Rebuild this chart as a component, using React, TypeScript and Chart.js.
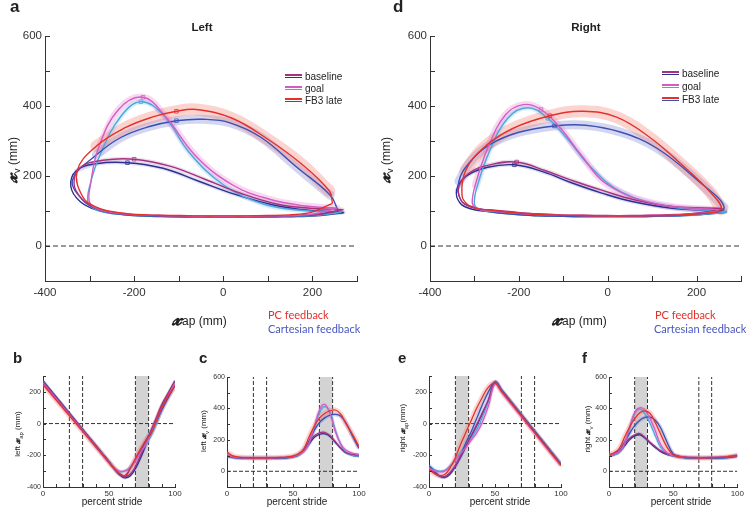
import React, { useEffect, useRef } from 'react';
import { Chart, registerables } from 'chart.js';
Chart.register(...registerables);

const CW = 746;
const CH = 509;

// ---------------- data ----------------
const PCT_LEFT = [0, 5, 10, 15, 20, 25, 30, 35, 40, 45, 50, 54, 58, 62, 66, 70, 74, 78, 82, 86, 90, 95, 100];
const PCT_RIGHT = [0, 4, 8, 12, 16, 20, 24, 28, 32, 36, 40, 45, 50, 55, 60, 65, 70, 75, 80, 85, 90, 95, 100];

// left leg: anterior-posterior (x_ap) and vertical (x_v) position, mm
const L_FB3_PC_AP = [245, 197, 148, 99, 50, 1, -48, -97, -146, -195, -244, -283, -315, -328, -285, -220, -160, -105, -60, 20, 100, 175, 238];
const L_FB3_PC_V = [122, 96, 89, 87, 86, 86, 86, 87, 88, 90, 97, 110, 140, 215, 285, 338, 368, 385, 390, 365, 305, 235, 157];
const L_FB3_C_AP = [258, 208, 158, 108, 58, 8, -42, -92, -142, -192, -242, -282, -318, -338, -285, -230, -170, -105, -45, 15, 85, 165, 240];
const L_FB3_C_V = [100, 90, 86, 85, 84, 84, 84, 84, 85, 87, 93, 105, 135, 190, 260, 310, 340, 358, 362, 352, 310, 225, 145];
const L_GOAL_PC_AP = [255, 205, 155, 105, 55, 5, -45, -95, -145, -195, -245, -280, -300, -298, -280, -235, -180, -130, -60, 20, 100, 180, 255];
const L_GOAL_PC_V = [108, 92, 87, 86, 85, 85, 85, 86, 87, 89, 95, 105, 125, 175, 280, 390, 425, 370, 255, 175, 135, 115, 108];
const L_GOAL_C_AP = [265, 213, 162, 111, 60, 9, -42, -93, -144, -195, -246, -282, -303, -300, -275, -230, -185, -135, -75, 0, 90, 175, 265];
const L_GOAL_C_V = [96, 88, 85, 84, 83, 83, 83, 84, 85, 87, 92, 102, 122, 170, 265, 370, 412, 375, 265, 175, 120, 102, 96];
const L_BASE_PC_AP = [265, 214, 163, 112, 61, 10, -41, -92, -143, -194, -245, -285, -318, -335, -320, -270, -200, -120, -40, 40, 120, 195, 268];
const L_BASE_PC_V = [103, 90, 87, 86, 85, 85, 85, 86, 87, 89, 95, 108, 135, 180, 225, 245, 248, 228, 190, 150, 120, 108, 104];
const L_BASE_C_AP = [270, 219, 168, 117, 66, 15, -36, -87, -138, -189, -240, -285, -322, -342, -330, -285, -215, -135, -55, 25, 110, 190, 270];
const L_BASE_C_V = [95, 87, 84, 83, 82, 82, 82, 83, 84, 86, 92, 103, 128, 170, 215, 235, 238, 222, 185, 148, 118, 102, 96];

// right leg
const R_FB3_PC_AP = [-290, -315, -328, -320, -280, -215, -130, -55, 20, 95, 160, 230, 255, 203, 152, 100, 48, -4, -56, -108, -160, -211, -262];
const R_FB3_PC_V = [105, 118, 145, 215, 280, 335, 372, 385, 368, 310, 240, 155, 105, 92, 88, 87, 86, 86, 87, 88, 90, 95, 102];
const R_FB3_C_AP = [-265, -300, -330, -335, -310, -265, -200, -120, -50, 30, 110, 200, 262, 210, 158, 106, 54, 2, -50, -102, -154, -206, -258];
const R_FB3_C_V = [100, 110, 130, 185, 240, 290, 325, 343, 345, 325, 280, 190, 110, 93, 87, 85, 84, 84, 84, 85, 86, 90, 96];
const R_GOAL_PC_AP = [-280, -298, -305, -298, -270, -230, -190, -150, -105, -60, 0, 110, 250, 198, 146, 95, 43, -9, -60, -112, -163, -215, -266];
const R_GOAL_PC_V = [102, 110, 125, 175, 280, 375, 404, 390, 335, 260, 175, 120, 102, 92, 88, 87, 86, 86, 87, 88, 90, 95, 100];
const R_GOAL_C_AP = [-265, -290, -300, -295, -268, -225, -180, -135, -90, -40, 30, 140, 265, 212, 160, 108, 56, 4, -48, -100, -152, -204, -256];
const R_GOAL_C_V = [98, 105, 120, 165, 265, 365, 395, 365, 305, 228, 155, 112, 98, 90, 86, 85, 84, 84, 84, 85, 86, 90, 96];
const R_BASE_PC_AP = [-275, -310, -330, -335, -310, -265, -205, -140, -75, -10, 60, 150, 258, 206, 154, 102, 50, -2, -54, -106, -158, -210, -262];
const R_BASE_PC_V = [104, 112, 130, 170, 210, 232, 240, 215, 185, 158, 132, 112, 106, 95, 90, 88, 87, 87, 88, 89, 92, 97, 103];
const R_BASE_C_AP = [-268, -305, -332, -340, -318, -270, -210, -145, -80, -15, 55, 145, 265, 213, 161, 109, 57, 5, -47, -99, -151, -203, -255];
const R_BASE_C_V = [98, 105, 122, 160, 200, 225, 232, 212, 180, 152, 127, 108, 98, 90, 86, 85, 84, 84, 84, 85, 87, 91, 96];

// index ranges (into the pct arrays) of the swing phase that carries the confidence band
const LEFT_SWING = [14, 22];
const RIGHT_SWING = [3, 12];
const LEFT_EVENTS = [20, 30, 70, 80];
const LEFT_SHADE = [70, 80];
const RIGHT_EVENTS = [20, 30, 70, 80];
const RIGHT_SHADE = [20, 30];

const LEGEND_LABELS = ['baseline', 'goal', 'FB3 late'];

// ---------------- styles ----------------
const FONT = '"Liberation Sans", Arial, Helvetica, sans-serif';
const COL = {
  fb3pc: '#e4312b',
  fb3c: '#3b50b2',
  goalpc: '#d45cc2',
  goalc: '#4ea6df',
  basepc: '#a6327f',
  basec: '#2d3090',
};
const BAND = {
  fb3pc: 'rgba(242,120,110,0.32)',
  fb3c: 'rgba(120,128,212,0.32)',
  goalpc: 'rgba(232,130,210,0.30)',
  goalc: 'rgba(130,195,238,0.30)',
  basepc: 'rgba(170,110,170,0.22)',
  basec: 'rgba(110,115,200,0.22)',
};

type S = { key: keyof typeof COL; ap: number[]; v: number[]; order: number; band: number; mark: number };
const LEFT: S[] = [
  { key: 'fb3pc', ap: L_FB3_PC_AP, v: L_FB3_PC_V, order: 1, band: 12, mark: 17 },
  { key: 'goalpc', ap: L_GOAL_PC_AP, v: L_GOAL_PC_V, order: 2, band: 7, mark: 16 },
  { key: 'basepc', ap: L_BASE_PC_AP, v: L_BASE_PC_V, order: 3, band: 4, mark: 16 },
  { key: 'fb3c', ap: L_FB3_C_AP, v: L_FB3_C_V, order: 4, band: 9, mark: 17 },
  { key: 'goalc', ap: L_GOAL_C_AP, v: L_GOAL_C_V, order: 5, band: 5, mark: 16 },
  { key: 'basec', ap: L_BASE_C_AP, v: L_BASE_C_V, order: 6, band: 4, mark: 16 },
];
const RIGHT: S[] = [
  { key: 'fb3pc', ap: R_FB3_PC_AP, v: R_FB3_PC_V, order: 1, band: 12, mark: 6 },
  { key: 'goalpc', ap: R_GOAL_PC_AP, v: R_GOAL_PC_V, order: 2, band: 7, mark: 7 },
  { key: 'basepc', ap: R_BASE_PC_AP, v: R_BASE_PC_V, order: 3, band: 4, mark: 6 },
  { key: 'fb3c', ap: R_FB3_C_AP, v: R_FB3_C_V, order: 4, band: 9, mark: 7 },
  { key: 'goalc', ap: R_GOAL_C_AP, v: R_GOAL_C_V, order: 5, band: 5, mark: 7 },
  { key: 'basec', ap: R_BASE_C_AP, v: R_BASE_C_V, order: 6, band: 4, mark: 6 },
];

const inwardTicks = {
  id: 'inwardTicks',
  afterDatasetsDraw(chart: any, _a: any, opts: any) {
    const { ctx, chartArea: ca, scales } = chart;
    const len = opts.len || 4;
    ctx.save();
    ctx.strokeStyle = '#333';
    ctx.lineWidth = 1;
    ctx.beginPath();
    scales.x.ticks.forEach((t: any) => {
      const p = Math.round(scales.x.getPixelForValue(t.value)) + 0.5;
      ctx.moveTo(p, ca.bottom);
      ctx.lineTo(p, ca.bottom - len);
    });
    scales.y.ticks.forEach((t: any) => {
      const p = Math.round(scales.y.getPixelForValue(t.value)) + 0.5;
      ctx.moveTo(ca.left, p);
      ctx.lineTo(ca.left + len, p);
    });
    ctx.stroke();
    ctx.restore();
  },
};

type Box = { l: number; t: number; r: number; b: number };

function axis(min: number, max: number, step: number, every: number, size: number, pad: number, isY: boolean, hideNeg = false) {
  return {
    type: 'linear',
    min,
    max,
    afterFit: (s: any) => {
      if (isY) s.width = 40;
      else s.height = 20;
    },
    ticks: {
      stepSize: step,
      autoSkip: false,
      maxRotation: 0,
      color: '#333',
      padding: pad,
      font: { family: FONT, size },
      callback: (v: number) => (Math.abs(v % every) < 1e-6 && !(hideNeg && v < 0) ? String(v) : ''),
    },
    grid: { display: false, drawTicks: false },
    border: { display: true, color: '#333', width: 1 },
  };
}

function baseOptions(box: Box, x: any, y: any, tickLen: number) {
  return {
    animation: false,
    responsive: false,
    maintainAspectRatio: false,
    events: [],
    layout: {
      autoPadding: false,
      padding: { left: box.l - 40, top: box.t, right: CW - box.r, bottom: CH - box.b - 20 },
    },
    plugins: { legend: { display: false }, tooltip: { enabled: false }, inwardTicks: { len: tickLen } },
    scales: { x, y },
  };
}

const lineDs = (data: any[], color: string, width: number, order: number, extra: any = {}) => ({
  data,
  borderColor: color,
  borderWidth: width,
  pointRadius: 0,
  tension: 0.4,
  fill: false,
  order,
  ...extra,
});

function trajConfig(series: S[], box: Box) {
  const ds: any[] = [];
  const sw = series === LEFT ? LEFT_SWING : RIGHT_SWING;
  series.forEach((s) => {
    const pts = s.ap.map((a, i) => ({ x: a, y: s.v[i] }));
    ds.push(lineDs([...pts, pts[0]], COL[s.key], 1.4, s.order));
    ds.push(lineDs(pts.slice(sw[0], sw[1] + 1), BAND[s.key], s.band, 20 + s.order, { borderCapStyle: 'round' }));
    ds.push(
      lineDs([pts[s.mark]], COL[s.key], 0, s.order, {
        showLine: false,
        pointRadius: 2.5,
        pointStyle: 'rect',
        pointBorderWidth: 0.8,
        pointBorderColor: COL[s.key],
        pointBackgroundColor: 'rgba(255,255,255,0)',
      })
    );
  });
  ds.push(lineDs([{ x: -400, y: 0 }, { x: 300, y: 0 }], '#333', 1, 40, { borderDash: [5, 3], tension: 0 }));
  return {
    type: 'line',
    data: { datasets: ds },
    options: baseOptions(box, axis(-400, 300, 100, 200, 11.5, 5, false), axis(-100, 600, 100, 200, 11.5, 3, true, true), 5),
    plugins: [inwardTicks],
  };
}

function timeConfig(series: S[], field: 'ap' | 'v', box: Box) {
  const left = series === LEFT;
  const pct = left ? PCT_LEFT : PCT_RIGHT;
  const sw = left ? LEFT_SWING : RIGHT_SWING;
  const ev = left ? LEFT_EVENTS : RIGHT_EVENTS;
  const sh = left ? LEFT_SHADE : RIGHT_SHADE;
  const ymin = field === 'ap' ? -400 : -100;
  const ymax = field === 'ap' ? 300 : 600;
  const ds: any[] = [];
  series.forEach((s) => {
    const arr = field === 'ap' ? s.ap : s.v;
    const pts = pct.map((t, i) => ({ x: t, y: arr[i] }));
    ds.push(lineDs(pts, COL[s.key], 1.3, s.order));
    ds.push(lineDs(pts, BAND[s.key], Math.max(3, s.band * 0.45), 20 + s.order));
  });
  ev.forEach((e) => ds.push(lineDs([{ x: e, y: ymin }, { x: e, y: ymax }], '#333', 1, 40, { borderDash: [4, 2], tension: 0 })));
  ds.push(lineDs([{ x: 0, y: 0 }, { x: 100, y: 0 }], '#333', 1, 40, { borderDash: [4, 2], tension: 0 }));
  ds.push(
    lineDs([{ x: sh[0], y: ymax }, { x: sh[1], y: ymax }], 'rgba(0,0,0,0)', 0, 60, {
      fill: 'start',
      backgroundColor: '#d3d3d3',
      tension: 0,
    })
  );
  return {
    type: 'line',
    data: { datasets: ds },
    options: baseOptions(box, axis(0, 100, 10, 50, 8, 2, false), axis(ymin, ymax, 100, 200, 7, 2, true), 3),
    plugins: [inwardTicks],
  };
}

function ChartCanvas({ make }: { make: () => any }) {
  const ref = useRef<HTMLCanvasElement>(null);
  useEffect(() => {
    const ch = new Chart(ref.current as HTMLCanvasElement, make());
    return () => ch.destroy();
  }, []);
  return <canvas ref={ref} width={CW} height={CH} style={{ position: 'absolute', left: 0, top: 0 }} />;
}

// ---------------- text helpers ----------------
const Txt = (p: { x: number; y: number; size: number; children: any; bold?: boolean; color?: string; center?: boolean; family?: string }) => (
  <div
    style={{
      position: 'absolute',
      left: p.x,
      top: p.y - 0.85 * p.size,
      fontSize: p.size,
      lineHeight: p.size + 'px',
      fontWeight: p.bold ? 'bold' : 'normal',
      color: p.color || '#222',
      fontFamily: p.family || FONT,
      whiteSpace: 'nowrap',
      transform: p.center ? 'translateX(-50%)' : undefined,
    }}
  >
    {p.children}
  </div>
);

const Rot = (p: { cx: number; cy: number; size: number; children: any }) => (
  <div
    style={{
      position: 'absolute',
      left: p.cx,
      top: p.cy,
      fontSize: p.size,
      lineHeight: 1,
      fontFamily: FONT,
      color: '#222',
      whiteSpace: 'nowrap',
      transform: 'translate(-50%,-50%) rotate(-90deg)',
    }}
  >
    {p.children}
  </div>
);

const SX = ({ size }: { size: number }) => (
  <span style={{ fontFamily: '"DejaVu Serif", "DejaVu Sans", serif', fontStyle: 'italic', fontWeight: 'bold', fontSize: size }}>𝔁</span>
);

const LEG_COLS: [string, string][] = [
  [COL.basepc, COL.basec],
  [COL.goalpc, COL.goalc],
  [COL.fb3pc, COL.fb3c],
];

const Legend = ({ x, y0, gap }: { x: number; y0: number; gap: number }) => (
  <>
    {LEGEND_LABELS.map((lab, i) => {
      const y = y0 + i * gap;
      return (
        <React.Fragment key={lab}>
          <div style={{ position: 'absolute', left: x, top: y - 2, width: 17, height: 1.6, background: LEG_COLS[i][0] }} />
          <div style={{ position: 'absolute', left: x, top: y + 0.8, width: 17, height: 1.6, background: LEG_COLS[i][1] }} />
          <Txt x={x + 20} y={y + 4} size={10}>
            {lab}
          </Txt>
        </React.Fragment>
      );
    })}
  </>
);

const BOX_A: Box = { l: 45, t: 36, r: 357, b: 281 };
const BOX_D: Box = { l: 430, t: 36, r: 741, b: 281 };
const BOX_B: Box = { l: 43, t: 376, r: 175, b: 487 };
const BOX_C: Box = { l: 227, t: 377, r: 359, b: 487 };
const BOX_E: Box = { l: 429, t: 376, r: 561, b: 487 };
const BOX_F: Box = { l: 609, t: 377, r: 741, b: 487 };

export default function App() {
  return (
    <div style={{ position: 'fixed', left: 0, top: 0, width: CW, height: CH, background: '#fff', overflow: 'hidden' }}>
      <ChartCanvas make={() => trajConfig(LEFT, BOX_A)} />
      <ChartCanvas make={() => trajConfig(RIGHT, BOX_D)} />
      <ChartCanvas make={() => timeConfig(LEFT, 'ap', BOX_B)} />
      <ChartCanvas make={() => timeConfig(LEFT, 'v', BOX_C)} />
      <ChartCanvas make={() => timeConfig(RIGHT, 'ap', BOX_E)} />
      <ChartCanvas make={() => timeConfig(RIGHT, 'v', BOX_F)} />

      <Txt x={10} y={12} size={17} bold>a</Txt>
      <Txt x={393} y={12} size={17} bold>d</Txt>
      <Txt x={202} y={32} size={11.5} bold center>Left</Txt>
      <Txt x={586} y={32} size={11.5} bold center>Right</Txt>

      <Legend x={285} y0={76} gap={12} />
      <Legend x={662} y0={73} gap={13} />

      <Rot cx={12} cy={160} size={12}>
        <SX size={18} />
        <sub style={{ fontSize: 9 }}>v</sub> (mm)
      </Rot>
      <Rot cx={385} cy={160} size={12}>
        <SX size={18} />
        <sub style={{ fontSize: 9 }}>v</sub> (mm)
      </Rot>

      <Txt x={172} y={322} size={12}>
        <SX size={19} />
        ap (mm)
      </Txt>
      <Txt x={552} y={322} size={12}>
        <SX size={19} />
        ap (mm)
      </Txt>

      <Txt x={268} y={318} size={11} color="#e0302c" family="Lato, sans-serif">PC feedback</Txt>
      <Txt x={268} y={332} size={11} color="#4a56bf" family="Lato, sans-serif">Cartesian feedback</Txt>
      <Txt x={655} y={318} size={11} color="#e0302c" family="Lato, sans-serif">PC feedback</Txt>
      <Txt x={654} y={332} size={11} color="#4a56bf" family="Lato, sans-serif">Cartesian feedback</Txt>

      <Txt x={13} y={363} size={15} bold>b</Txt>
      <Txt x={199} y={363} size={15} bold>c</Txt>
      <Txt x={398} y={363} size={15} bold>e</Txt>
      <Txt x={582} y={363} size={15} bold>f</Txt>

      <Txt x={112} y={505} size={10} center>percent stride</Txt>
      <Txt x={297} y={505} size={10} center>percent stride</Txt>
      <Txt x={500} y={505} size={10} center>percent stride</Txt>
      <Txt x={681} y={505} size={10} center>percent stride</Txt>

      <Rot cx={18} cy={434} size={8}>
        left <SX size={10} />
        <sub style={{ fontSize: 6 }}>ap</sub> (mm)
      </Rot>
      <Rot cx={204} cy={431} size={8}>
        left <SX size={10} />
        <sub style={{ fontSize: 6 }}>v</sub> (mm)
      </Rot>
      <Rot cx={403} cy={428} size={8}>
        right <SX size={10} />
        <sub style={{ fontSize: 6 }}>ap</sub>(mm)
      </Rot>
      <Rot cx={588} cy={429} size={8}>
        right <SX size={10} />
        <sub style={{ fontSize: 6 }}>v</sub> (mm)
      </Rot>
    </div>
  );
}
